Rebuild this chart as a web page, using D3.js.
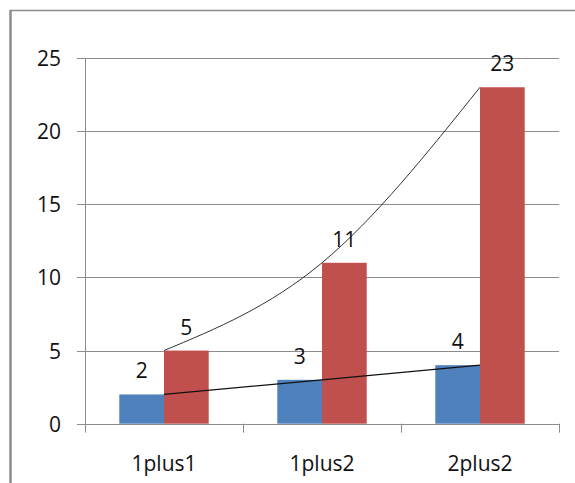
<!DOCTYPE html>
<html><head><meta charset="utf-8">
<script src="https://cdn.jsdelivr.net/npm/d3@7"></script>
<style>body{margin:0;background:#fff}svg{display:block}text{font-family:"Open Sans",sans-serif;fill:#111}</style>
</head><body>
<svg id="c" width="575" height="483"></svg>
<script>
const categories = ["1plus1", "1plus2", "2plus2"];
const seriesA = [2, 3, 4];
const seriesB = [5, 11, 23];
const yTicks = [0, 5, 10, 15, 20, 25];

(function () {
const svg = d3.select("#c");
const W = 575, H = 483;
const pLeft = 85, pRight = 559, pTop = 58, pBottom = 423.7;
const fs = 21;

// outer frame
svg.append("line").attr("x1", 10).attr("x2", W).attr("y1", 10.5).attr("y2", 10.5).attr("stroke", "#8c8c8c").attr("stroke-width", 1.5);
svg.append("line").attr("x1", 10.5).attr("x2", 10.5).attr("y1", 10).attr("y2", H).attr("stroke", "#8c8c8c").attr("stroke-width", 2.5);

const x = d3.scaleBand().domain(categories).range([pLeft, pRight]).paddingInner(0).paddingOuter(0);
const y = d3.scaleLinear().domain([0, 25]).range([pBottom, pTop]);
const bw = x.bandwidth() * 0.283;

// gridlines
svg.append("g").selectAll("line").data(yTicks).join("line")
  .attr("x1", pLeft - 8).attr("x2", pRight)
  .attr("y1", d => Math.round(y(d)) + 0.5).attr("y2", d => Math.round(y(d)) + 0.5)
  .attr("stroke", "#8c8c8c").attr("stroke-width", 1);

// y labels
svg.append("g").selectAll("text").data(yTicks).join("text")
  .attr("x", 61).attr("y", d => y(d)).attr("text-anchor", "end")
  .attr("dominant-baseline", "central").attr("font-size", fs).text(d => d);

// y axis line
svg.append("line").attr("x1", pLeft + 0.5).attr("x2", pLeft + 0.5).attr("y1", pTop).attr("y2", pBottom + 9).attr("stroke", "#8c8c8c");
// x ticks
const xt = categories.map(c => x(c) + x.bandwidth());
svg.append("g").selectAll("line").data(xt).join("line")
  .attr("x1", d => Math.round(d) + 0.5).attr("x2", d => Math.round(d) + 0.5)
  .attr("y1", pBottom).attr("y2", pBottom + 9).attr("stroke", "#8c8c8c");

// bars
const cx = c => x(c) + x.bandwidth() / 2;
svg.append("g").selectAll("rect").data(categories).join("rect")
  .attr("x", c => cx(c) - bw).attr("width", bw)
  .attr("y", (c, i) => y(seriesA[i])).attr("height", (c, i) => y(0) - y(seriesA[i]))
  .attr("fill", "#4F81BD");
svg.append("g").selectAll("rect").data(categories).join("rect")
  .attr("x", c => cx(c)).attr("width", bw)
  .attr("y", (c, i) => y(seriesB[i])).attr("height", (c, i) => y(0) - y(seriesB[i]))
  .attr("fill", "#C0504D");

// trend lines
const line = d3.line().x((d, i) => cx(categories[i])).y(d => y(d));
svg.append("path").attr("d", line.curve(d3.curveLinear)(seriesA)).attr("fill", "none").attr("stroke", "#111").attr("stroke-width", 1.3);
svg.append("path").attr("d", line.curve(d3.curveNatural)(seriesB)).attr("fill", "none").attr("stroke", "#333").attr("stroke-width", 1);

// data labels
svg.append("g").selectAll("text").data(categories).join("text")
  .attr("x", c => cx(c) - bw / 2).attr("y", (c, i) => y(seriesA[i]) - 24)
  .attr("text-anchor", "middle").attr("dominant-baseline", "central").attr("font-size", fs)
  .text((c, i) => seriesA[i]);
svg.append("g").selectAll("text").data(categories).join("text")
  .attr("x", c => cx(c) + bw / 2).attr("y", (c, i) => y(seriesB[i]) - 24)
  .attr("text-anchor", "middle").attr("dominant-baseline", "central").attr("font-size", fs)
  .text((c, i) => seriesB[i]);

// category labels
svg.append("g").selectAll("text").data(categories).join("text")
  .attr("x", c => cx(c)).attr("y", 463)
  .attr("text-anchor", "middle").attr("dominant-baseline", "central").attr("font-size", fs)
  .text(c => c);
})();
</script>
</body></html>
